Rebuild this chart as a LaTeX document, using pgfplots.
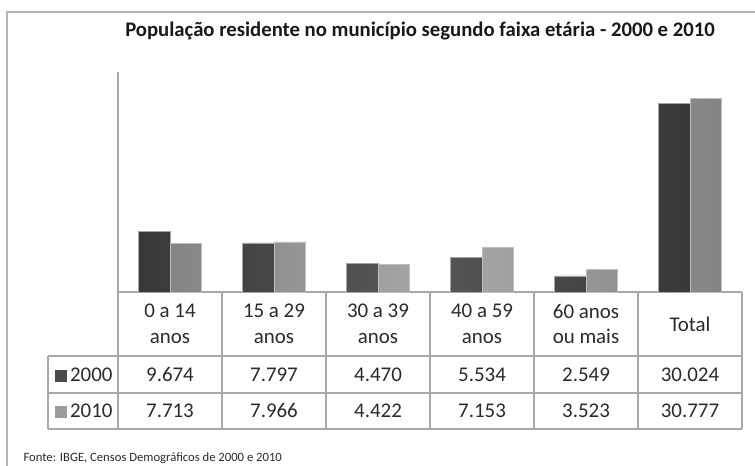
\documentclass[border=0pt]{standalone}
\usepackage{pgfplots}
\pgfplotsset{compat=1.18}
\usepackage{pgfplotstable}
\usepackage{fontspec}
\setmainfont{Carlito}

\pgfplotstableread{
x y2000 y2010
0 9674 7713
1 7797 7966
2 4470 4422
3 5534 7153
4 2549 3523
5 30024 30777
}\data

\definecolor{cA}{HTML}{4A4A4A}
\definecolor{cAe}{HTML}{383838}
\definecolor{cAm}{HTML}{585858}
\definecolor{cB}{HTML}{9C9C9C}
\definecolor{cBe}{HTML}{848484}
\definecolor{cBm}{HTML}{A8A8A8}
\definecolor{frm}{HTML}{B4B4B4}
\definecolor{grd}{HTML}{A8A8A8}
\definecolor{txt}{HTML}{2A2A2A}

\begin{document}
\begin{tikzpicture}[x=1bp,y=1bp]
\useasboundingbox (0,0) rectangle (755,466);
\begin{axis}[at={(118bp,174bp)}, anchor=south west, scale only axis,
  width=624bp, height=220bp, xmin=-0.5, xmax=5.5, ymin=0, ymax=35000,
  xtick=\empty, ytick=\empty, axis x line=bottom, axis y line=left,
  axis line style={-, draw=grd, line width=1.2bp},
  ybar=0pt, bar width=31.5bp, clip=false]
\addplot[left color=cAe, right color=cAe, middle color=cAm, draw=gray!70, line width=0.8bp] table[x=x,y=y2000]{\data};
\addplot[left color=cBe, right color=cBe, middle color=cBm, draw=gray!50, line width=0.8bp] table[x=x,y=y2010]{\data};
\end{axis}
\begin{scope}[shift={(0,466)}, y=-1bp]
  \draw[frm, line width=2bp] (7,467) -- (7,12) -- (756,12);
  \draw[grd, line width=1.2bp] (48,356) -- (742,356) (48,393) -- (742,393) (48,429) -- (742,429);
  \foreach \xx in {222,326,430,534,638,742} \draw[grd, line width=1.2bp] (\xx,292) -- (\xx,429);
  \draw[grd, line width=1.2bp] (118,292) -- (118,429) (48,356) -- (48,429);
  \node[font=\bfseries\fontsize{20.8}{24}\selectfont, text=black!90] at (420,31) {População residente no município segundo faixa etária - 2000 e 2010};
  \begin{scope}[every node/.style={font=\fontsize{21}{26}\selectfont, text=txt, align=center}]
    \node at (170,324) {0 a 14\\anos};
    \node at (274,324) {15 a 29\\anos};
    \node at (378,324) {30 a 39\\anos};
    \node at (482,324) {40 a 59\\anos};
    \node at (586,324) {60 anos\\ou mais};
    \node at (690,324) {Total};
    \node at (170,375) {9.674};
    \node at (274,375) {7.797};
    \node at (378,375) {4.470};
    \node at (482,375) {5.534};
    \node at (586,375) {2.549};
    \node at (690,375) {30.024};
    \node at (170,411) {7.713};
    \node at (274,411) {7.966};
    \node at (378,411) {4.422};
    \node at (482,411) {7.153};
    \node at (586,411) {3.523};
    \node at (690,411) {30.777};
    \node[anchor=east] at (116,375) {\textcolor{cA}{\rule{12bp}{12bp}}\kern3bp 2000};
    \node[anchor=east] at (116,411) {\textcolor{cB}{\rule{12bp}{12bp}}\kern3bp 2010};
  \end{scope}
  \node[anchor=west, font=\fontsize{12.7}{15}\selectfont, text=txt] at (20,458) {Fonte: IBGE, Censos Demográficos de 2000 e 2010};
\end{scope}
\end{tikzpicture}
\end{document}
